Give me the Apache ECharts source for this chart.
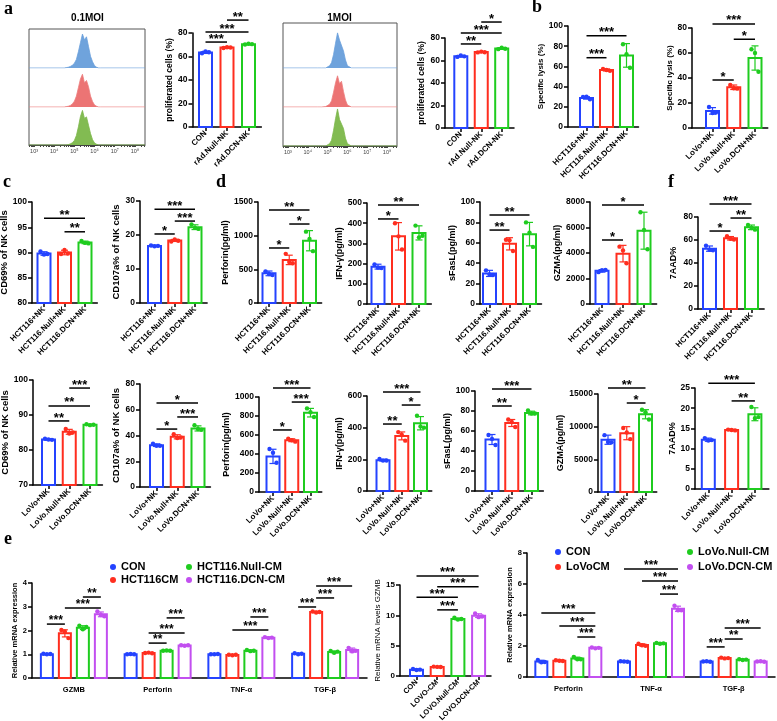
<!DOCTYPE html>
<html><head><meta charset="utf-8">
<script src="https://cdn.jsdelivr.net/npm/echarts@6/dist/echarts.min.js"></script>
<style>html,body{margin:0;padding:0;background:#fff}#c{width:777px;height:721px}</style>
</head><body><div id="c"></div>
<script>
// ================= DATA =================
const catsA = ['CON', 'rAd.Null-NK', 'rAd.DCN-NK'];
const catsHCT = ['HCT116+NK', 'HCT116.Null+NK', 'HCT116.DCN+NK'];
const catsLoVo = ['LoVo+NK', 'LoVo.Null+NK', 'LoVo.DCN+NK'];

// flow cytometry histograms (log10 intensity, normalised counts)
const flowX = [4.5,4.6,4.7,4.8,4.9,5.0,5.1,5.2,5.3,5.4,5.5,5.6,5.7,5.8,5.9,6.0,6.1,6.2,6.3];
const flow01Blue  = [0,0.01,0.02,0.04,0.07,0.12,0.22,0.42,0.65,0.87,0.72,0.80,0.55,0.30,0.16,0.06,0.02,0,0];
const flow01Red   = [0,0.01,0.02,0.04,0.08,0.15,0.28,0.50,0.72,0.84,0.62,0.68,0.52,0.28,0.14,0.05,0.02,0,0];
const flow01Green = [0,0,0.01,0.03,0.06,0.12,0.25,0.48,0.75,0.91,0.70,0.74,0.52,0.30,0.14,0.05,0.02,0,0];
const flow1Blue  = [0,0,0,0,0,0.02,0.05,0.12,0.30,0.55,0.78,0.62,0.66,0.38,0.18,0.05,0.01,0,0];
const flow1Red   = [0,0,0,0,0.01,0.03,0.07,0.16,0.38,0.62,0.80,0.60,0.66,0.40,0.18,0.05,0.01,0,0];
const flow1Green = [0,0,0,0,0,0.02,0.06,0.15,0.40,0.70,0.95,0.68,0.72,0.45,0.20,0.06,0.01,0,0];
const flowTickLabels = ['10³','10⁴','10⁵','10⁶','10⁷','10⁸'];

// a: proliferation
const prolif01Mean = [63.5, 67.6, 70.5];
const prolif01Sd = [0.9, 0.6, 0.5];
const prolif01Pts = [[62.8,64.3,63.6],[67.2,67.9,67.7],[70.2,70.9,70.5]];
const prolif01Sig = [[0,1,'***'],[0,2,'***'],[1,2,'**']];
const prolif1Mean = [63.8, 67.5, 70.6];
const prolif1Sd = [0.7, 0.5, 0.7];
const prolif1Pts = [[63.2,64.5,63.7],[67.2,67.9,67.4],[70.1,71.3,70.4]];
const prolif1Sig = [[0,1,'**'],[0,2,'***'],[1,2,'*']];

// b: specific lysis
const lysisHctMean = [28.8, 56.5, 70.9];
const lysisHctSd = [1.2, 1.0, 11.7];
const lysisHctPts = [[29.8,29.9,27.5],[57.5,56.4,55.6],[82,72,58.7]];
const lysisHctSig = [[0,1,'***'],[0,2,'***']];
const lysisLoVoMean = [13.7, 32.6, 56];
const lysisLoVoSd = [2.6, 1.8, 9.7];
const lysisLoVoPts = [[16.8,12,12.4],[34.5,31.8,31.5],[63,60,45]];
const lysisLoVoSig = [[0,1,'*'],[1,2,'*'],[0,2,'***']];

// c: CD69 / CD107a
const cd69HctMean = [89.8, 90.0, 92.0];
const cd69HctSd = [0.35, 0.45, 0.25];
const cd69HctPts = [[90.2,89.6,89.7],[89.7,90.5,89.8],[92.3,91.9,91.8]];
const cd69HctSig = [[0,2,'**'],[1,2,'**']];
const cd107HctMean = [16.8, 18.4, 22.3];
const cd107HctSd = [0.2, 0.3, 0.7];
const cd107HctPts = [[16.9,16.7,16.8],[18.1,18.7,18.3],[23.1,22.1,21.8]];
const cd107HctSig = [[0,1,'*'],[1,2,'***'],[0,2,'***']];
const cd69LoVoMean = [83.0, 85.2, 87.2];
const cd69LoVoSd = [0.2, 0.7, 0.15];
const cd69LoVoPts = [[83.2,83,82.9],[86,84.7,85],[87.35,87.1,87.2]];
const cd69LoVoSig = [[0,1,'**'],[0,2,'**'],[1,2,'***']];
const cd107LoVoMean = [32.5, 39, 45.5];
const cd107LoVoSd = [1, 1.6, 2];
const cd107LoVoPts = [[33.6,32,32],[41,38,38.5],[48,45,44.5]];
const cd107LoVoSig = [[0,1,'*'],[1,2,'***'],[0,2,'*']];

// d: cytokines
const perfHctMean = [440, 640, 925];
const perfHctSd = [35, 70, 150];
const perfHctPts = [[470,430,415],[730,610,590],[1060,950,770]];
const perfHctSig = [[0,1,'*'],[1,2,'*'],[0,2,'**']];
const ifnHctMean = [185, 335, 352];
const ifnHctSd = [12, 68, 35];
const ifnHctPts = [[196,180,178],[400,335,270],[388,330,338]];
const ifnHctSig = [[0,1,'*'],[0,2,'**']];
const fasHctMean = [30, 59, 68.5];
const fasHctSd = [3, 6, 11.5];
const fasHctPts = [[33,29,28.5],[63,62.5,52],[80,70,56]];
const fasHctSig = [[0,1,'**'],[0,2,'**']];
const gzmaHctMean = [2600, 3950, 5750];
const gzmaHctSd = [100, 650, 1450];
const gzmaHctPts = [[2500,2650,2680],[4500,4200,3200],[7200,5800,4300]];
const gzmaHctSig = [[0,1,'*'],[0,2,'*']];
const perfLoVoMean = [375, 545, 835];
const perfLoVoSd = [75, 15, 45];
const perfLoVoPts = [[452,413,308],[560,545,530],[880,840,790]];
const perfLoVoSig = [[0,1,'*'],[1,2,'***'],[0,2,'***']];
const ifnLoVoMean = [195, 348, 428];
const ifnLoVoSd = [6, 25, 42];
const ifnLoVoPts = [[202,192,193],[372,355,318],[475,408,400]];
const ifnLoVoSig = [[0,1,'**'],[1,2,'*'],[0,2,'***']];
const fasLoVoMean = [51.5, 68, 78];
const fasLoVoSd = [5, 3.5, 1.8];
const fasLoVoPts = [[56,52,46],[71.5,69,64],[80.5,77.5,77.5]];
const fasLoVoSig = [[0,1,'**'],[0,2,'***']];
const gzmaLoVoMean = [8000, 9000, 11900];
const gzmaLoVoSd = [700, 1000, 700];
const gzmaLoVoPts = [[8700,7650,7600],[9800,9100,8100],[12600,12200,11100]];
const gzmaLoVoSig = [[1,2,'*'],[0,2,'**']];

// f: 7AAD
const aadHctMean = [52.5, 61.5, 71];
const aadHctSd = [2.3, 1.5, 2];
const aadHctPts = [[55,51.5,51],[63.2,61,60.5],[73,70.5,69]];
const aadHctSig = [[0,1,'*'],[1,2,'**'],[0,2,'***']];
const aadLoVoMean = [12.2, 14.6, 18.5];
const aadLoVoSd = [0.4, 0.15, 1.6];
const aadLoVoPts = [[12.6,12,12.1],[14.7,14.6,14.5],[20.3,17.5,17.8]];
const aadLoVoSig = [[1,2,'**'],[0,2,'***']];

// e: qPCR
const hctGenes = ['GZMB', 'Perforin', 'TNF-α', 'TGF-β'];
const hctGroups = ['CON', 'HCT116CM', 'HCT116.Null-CM', 'HCT116.DCN-CM'];
const hctMean = [[1.0,1.0,1.0,1.02],[1.88,1.05,0.97,2.78],[2.12,1.15,1.15,1.1],[2.68,1.37,1.7,1.18]];
const hctSd = [[0.02,0.01,0.01,0.02],[0.15,0.02,0.02,0.03],[0.08,0.01,0.03,0.04],[0.1,0.02,0.03,0.08]];
const hctPts = [
  [[1.02,1.0,1.01],[1.0,1.01,1.0],[1.0,1.0,1.01],[1.04,1.0,1.02]],
  [[2.02,1.95,1.68],[1.05,1.07,1.04],[0.98,0.96,0.98],[2.8,2.76,2.78]],
  [[2.2,2.05,2.15],[1.15,1.16,1.15],[1.18,1.13,1.15],[1.14,1.06,1.11]],
  [[2.8,2.65,2.6],[1.38,1.36,1.38],[1.72,1.68,1.7],[1.27,1.12,1.15]]];
const hctSig = [[0,0,1,'***'],[0,1,3,'***'],[0,2,3,'**'],[1,1,2,'**'],[1,1,3,'***'],[1,2,3,'***'],[2,1,3,'***'],[2,2,3,'***'],[3,0,1,'***'],[3,1,2,'***'],[3,1,3,'***']];

const gzmbCats = ['CON', 'LOVO-CM', 'LOVO.Null-CM', 'LOVO.DCN-CM'];
const gzmbMean = [1.05, 1.5, 9.4, 9.95];
const gzmbSd = [0.08, 0.04, 0.15, 0.3];
const gzmbPts = [[1.15,1.0,1.05],[1.55,1.5,1.48],[9.6,9.3,9.4],[10.3,9.7,9.8]];
const gzmbSig = [[1,2,'***'],[0,2,'***'],[1,3,'***'],[0,3,'***']];

const lovoGenes = ['Perforin', 'TNF-α', 'TGF-β'];
const lovoGroups = ['CON', 'LoVoCM', 'LoVo.Null-CM', 'LoVo.DCN-CM'];
const lovoMean = [[1.0,1.0,1.0],[1.05,2.07,1.22],[1.2,2.17,1.12],[1.88,4.4,1.0]];
const lovoSd = [[0.08,0.02,0.02],[0.03,0.07,0.03],[0.08,0.03,0.03],[0.03,0.17,0.02]];
const lovoPts = [
  [[1.1,0.95,0.97],[1.02,1.0,0.98],[1.0,1.02,0.98]],
  [[1.08,1.05,1.03],[2.15,2.05,2.02],[1.25,1.2,1.22]],
  [[1.3,1.15,1.15],[2.2,2.15,2.17],[1.15,1.1,1.12]],
  [[1.9,1.85,1.88],[4.6,4.3,4.3],[1.0,1.02,0.98]]];
const lovoSig = [[0,0,3,'***'],[0,1,3,'***'],[0,2,3,'***'],[1,0,3,'***'],[1,1,3,'***'],[1,2,3,'***'],[2,0,1,'***'],[2,1,2,'**'],[2,1,3,'***']];

// ================= STYLE / LAYOUT =================
const COLORS = ['#2443ff', '#ff2e1f', '#1fcc1f', '#c24ff0'];
const FONT = '"Liberation Sans", Arial, sans-serif';
const grids = [], xAxes = [], yAxes = [], series = [], graphics = [], legends = [];

function yAxisCfg(gi, p) {
  return {gridIndex: gi, type: 'value', min: p.yMin, max: p.yMax, interval: p.step,
    name: p.name, nameLocation: 'middle', nameGap: p.ng,
    nameTextStyle: {fontSize: p.nfs || 9, fontWeight: p.nfw || 'bold', color: '#000', fontFamily: FONT},
    axisLine: {show: true, onZero: false, lineStyle: {color: '#000', width: 1.5}},
    axisTick: {show: true, length: 4, lineStyle: {color: '#000', width: 1.5}},
    axisLabel: {fontSize: p.lfs || 8.5, fontWeight: 'bold', color: '#000', margin: 5, fontFamily: FONT, formatter: v => String(v)},
    splitLine: {show: false}};
}

function errSeries(xi, yi, data, yMin, colorOf, offOf, cap) {
  return {type: 'custom', xAxisIndex: xi, yAxisIndex: yi, clip: false, silent: true, z: 3, data,
    renderItem: (params, api) => {
      const d = data[params.dataIndex];
      const hi = api.coord([api.value(0), d[1] + d[2]]);
      const lo = api.coord([api.value(0), Math.max(d[1] - d[2], yMin)]);
      const off = offOf(d), c = colorOf(d), w = cap / 2, x = hi[0] + off;
      return {type: 'group', children: [
        {type: 'line', shape: {x1: x, y1: hi[1], x2: x, y2: lo[1]}, style: {stroke: c, lineWidth: 1.2}},
        {type: 'line', shape: {x1: x - w, y1: hi[1], x2: x + w, y2: hi[1]}, style: {stroke: c, lineWidth: 1.2}},
        {type: 'line', shape: {x1: x - w, y1: lo[1], x2: x + w, y2: lo[1]}, style: {stroke: c, lineWidth: 1.2}}]};
    }};
}

function barSeries(xi, yi, data, yMin, colorOf, offOf, bw, name) {
  return {type: 'custom', name, xAxisIndex: xi, yAxisIndex: yi, clip: false, silent: true, z: 2, data,
    itemStyle: {color: '#fff'},
    renderItem: (params, api) => {
      const d = data[params.dataIndex];
      const top = api.coord([api.value(0), d[1]]);
      const base = api.coord([api.value(0), yMin]);
      const x = top[0] + offOf(d);
      return {type: 'rect', shape: {x: x - bw / 2, y: top[1], width: bw, height: base[1] - top[1]},
        style: {fill: '#fff', stroke: colorOf(d), lineWidth: 2}};
    }};
}

function dotSeries(xi, yi, data, colorOf, offOf, name, color) {
  const DOT_OFF = [-3.5, 0, 3.5];
  return {type: 'custom', name, xAxisIndex: xi, yAxisIndex: yi, clip: false, silent: true, z: 4, data,
    itemStyle: {color: color || '#000'},
    renderItem: (params, api) => {
      const d = data[params.dataIndex];
      const p = api.coord([api.value(0), d[1]]);
      return {type: 'circle', shape: {cx: p[0] + offOf(d) + DOT_OFF[d[2]], cy: p[1], r: 2.2},
        style: {fill: colorOf(d)}};
    }};
}

function sigSeries(xi, yi, data, labels, offA, offB, fs) {
  return {type: 'custom', xAxisIndex: xi, yAxisIndex: yi, clip: false, silent: true, z: 5, data,
    renderItem: (params, api) => {
      const d = data[params.dataIndex];
      const a = api.coord([d[0], d[2]]), b = api.coord([d[1], d[2]]);
      const x1 = a[0] + offA(d), x2 = b[0] + offB(d);
      return {type: 'group', children: [
        {type: 'line', shape: {x1, y1: a[1], x2, y2: a[1]}, style: {stroke: '#000', lineWidth: 1.5}},
        {type: 'text', x: (x1 + x2) / 2, y: a[1] - 3,
          style: {text: labels[params.dataIndex], fill: '#000', fontSize: fs, fontWeight: 'bold', fontFamily: FONT, align: 'center', verticalAlign: 'middle'}}]};
    }};
}

// three-bar panels
function barPanel(p) {
  const n = p.mean.length;
  const x0 = -(p.c1 - p.ax) / p.s;
  const xMax = (n - 1) + (p.tail || 0.6);
  const gi = grids.length;
  grids.push({left: p.ax, top: p.top, width: (xMax - x0) * p.s, height: p.bot - p.top, outerBoundsMode: 'none', containLabel: false});
  const idx = p.mean.map((m, i) => i);
  xAxes.push({gridIndex: gi, type: 'value', min: x0, max: xMax, splitLine: {show: false},
    axisLine: {show: true, onZero: false, lineStyle: {color: '#000', width: 1.5}},
    axisTick: {show: true, customValues: idx, length: 4, lineStyle: {color: '#000', width: 1.5}},
    axisLabel: {customValues: idx, formatter: v => p.cats[Math.round(v)], rotate: 45, fontSize: p.xfs || 8,
      fontWeight: 'bold', color: '#000', fontFamily: FONT, margin: 5}});
  yAxes.push(yAxisCfg(gi, p));
  const xi = xAxes.length - 1, yi = yAxes.length - 1;
  const col = d => COLORS[d[0]], off0 = () => 0;
  series.push(barSeries(xi, yi, p.mean.map((m, i) => [i, m]), p.yMin, col, off0, p.bw || 13));
  series.push(errSeries(xi, yi, p.mean.map((m, i) => [i, m, p.sd[i]]), p.yMin, col, off0, 7));
  const dots = [];
  p.pts.forEach((arr, i) => arr.forEach((v, k) => dots.push([i, v, k])));
  series.push(dotSeries(xi, yi, dots, col, off0));
  series.push(sigSeries(xi, yi, p.sig.map((s, k) => [s[0], s[1], p.sigY[k]]), p.sig.map(s => s[2]), off0, off0, p.sfs || 13));
}

// grouped panels
function groupPanel(p) {
  const gi = grids.length;
  grids.push({left: p.left, top: p.top, width: p.width, height: p.bot - p.top, outerBoundsMode: 'none', containLabel: false});
  xAxes.push({gridIndex: gi, type: 'category', data: p.cats, boundaryGap: true,
    axisLine: {show: true, onZero: false, lineStyle: {color: '#000', width: 1.5}},
    axisTick: {show: false},
    axisLabel: {fontSize: 7.5, color: '#000', fontFamily: FONT, margin: 8, fontWeight: 'bold'}});
  yAxes.push(yAxisCfg(gi, p));
  const xi = xAxes.length - 1, yi = yAxes.length - 1;
  const G = p.gap, nS = p.mean.length;
  const off = d => (d[3] - (nS - 1) / 2) * G;
  const col = d => COLORS[d[3]];
  p.mean.forEach((arr, s) => {
    series.push(barSeries(xi, yi, arr.map((m, g) => [g, m, 0, s]), p.yMin, col, off, 12));
    series.push(errSeries(xi, yi, arr.map((m, g) => [g, m, p.sd[s][g], s]), p.yMin, col, off, 6));
    const dots = [];
    p.pts[s].forEach((tri, g) => tri.forEach((v, k) => dots.push([g, v, k, s])));
    series.push(dotSeries(xi, yi, dots, col, off, p.groups[s], COLORS[s]));
  });
  const sd = p.sig.map((s, k) => [s[0], s[0], p.sigY[k], s[1], s[2]]);
  series.push(sigSeries(xi, yi, sd, p.sig.map(s => s[3]),
    d => (d[3] - (nS - 1) / 2) * G, d => (d[4] - (nS - 1) / 2) * G, 12));
}

// flow histogram boxes
const FLOW_MIN = 2.75, FLOW_MAX = 8.5;
const flowMajor = [3, 4, 5, 6, 7, 8];
const flowMinor = [];
for (let e = 2; e <= 8; e++) for (let k = 1; k <= 9; k++) {
  const v = e + Math.log10(k);
  if (v >= FLOW_MIN && v <= FLOW_MAX) flowMinor.push(v);
}
function flowBox(b) {
  const gi = grids.length;
  grids.push({left: b.left, top: b.top, width: b.w, height: b.bandBot[2] - b.top, show: true,
    borderColor: '#555', borderWidth: 1, outerBoundsMode: 'none', containLabel: false});
  xAxes.push({gridIndex: gi, type: 'value', min: FLOW_MIN, max: FLOW_MAX, splitLine: {show: false},
    axisLine: {show: true, onZero: false, lineStyle: {color: '#444', width: 1}},
    axisTick: {show: true, customValues: flowMinor, length: 2, lineStyle: {color: '#444', width: 1}},
    axisLabel: {customValues: flowMajor, formatter: v => flowTickLabels[Math.round(v) - 3], fontSize: 5.5, color: '#444', margin: 3, fontFamily: FONT}});
  yAxes.push({gridIndex: gi, type: 'value', min: 0, max: 1, show: false});
  b.hists.forEach((h, k) => {
    const top = k === 0 ? b.top : b.bandBot[k - 1];
    const g = grids.length;
    grids.push({left: b.left, top: top, width: b.w, height: b.bandBot[k] - top, outerBoundsMode: 'none', containLabel: false});
    xAxes.push({gridIndex: g, type: 'value', min: FLOW_MIN, max: FLOW_MAX, show: false});
    yAxes.push({gridIndex: g, type: 'value', min: 0, max: 1, show: false});
    const data = [[FLOW_MIN, 0]].concat(flowX.map((x, i) => [x, h.counts[i]]), [[FLOW_MAX, 0]]);
    series.push({type: 'line', xAxisIndex: xAxes.length - 1, yAxisIndex: yAxes.length - 1, data,
      symbol: 'none', silent: true, lineStyle: {color: h.line, width: 0.8},
      areaStyle: {color: h.fill, opacity: 1}});
  });
}

const BLUE_H = {line: '#6a9fdc', fill: '#6fa3dc'};
const RED_H = {line: '#ec7f7f', fill: '#ec7474'};
const GREEN_H = {line: '#7cb84a', fill: '#82bb52'};

flowBox({left: 29, top: 29, w: 116, bandBot: [68, 107, 145], hists: [
  Object.assign({counts: flow01Blue}, BLUE_H), Object.assign({counts: flow01Red}, RED_H), Object.assign({counts: flow01Green}, GREEN_H)]});
flowBox({left: 283, top: 23, w: 114, bandBot: [68, 107, 146], hists: [
  Object.assign({counts: flow1Blue}, BLUE_H), Object.assign({counts: flow1Red}, RED_H), Object.assign({counts: flow1Green}, GREEN_H)]});

// ---- a ----
barPanel({ax: 192.5, c1: 205.5, s: 21.5, top: 33, bot: 127, yMin: 0, yMax: 80, step: 20, ng: 16, nfs: 8.5,
  name: 'proliferated cells (%)', cats: catsA, mean: prolif01Mean, sd: prolif01Sd, pts: prolif01Pts, sig: prolif01Sig, sigY: [72.3, 80.9, 91]});
barPanel({ax: 445, c1: 460.8, s: 20.45, top: 38, bot: 128, yMin: 0, yMax: 80, step: 20, ng: 16, nfs: 8.5,
  name: 'proliferated cells (%)', cats: catsA, mean: prolif1Mean, sd: prolif1Sd, pts: prolif1Pts, sig: prolif1Sig, sigY: [74.7, 84.4, 94.2]});
// ---- b ----
barPanel({ax: 568, c1: 586.5, s: 20, top: 26, bot: 127, yMin: 0, yMax: 100, step: 20, ng: 17, nfs: 8,
  name: 'Specific lysis (%)', cats: catsHCT, mean: lysisHctMean, sd: lysisHctSd, pts: lysisHctPts, sig: lysisHctSig, sigY: [68.6, 90.4]});
barPanel({ax: 692, c1: 712.5, s: 21.25, top: 28, bot: 128, yMin: 0, yMax: 80, step: 20, ng: 15.5, nfs: 8,
  name: 'Specific lysis (%)', cats: catsLoVo, mean: lysisLoVoMean, sd: lysisLoVoSd, pts: lysisLoVoPts, sig: lysisLoVoSig, sigY: [38.4, 71, 83.3]});
// ---- row 1: c, d, f (HCT116) ----
barPanel({ax: 32, c1: 44, s: 20.5, top: 202, bot: 303, yMin: 80, yMax: 100, step: 5, ng: 22, nfs: 9.5,
  name: 'CD69% of NK cells', cats: catsHCT, mean: cd69HctMean, sd: cd69HctSd, pts: cd69HctPts, sig: cd69HctSig, sigY: [96.8, 94.1]});
barPanel({ax: 140, c1: 154.5, s: 20.25, top: 201, bot: 303, yMin: 0, yMax: 30, step: 10, ng: 16, nfs: 9.5,
  name: 'CD107a% of NK cells', cats: catsHCT, mean: cd107HctMean, sd: cd107HctSd, pts: cd107HctPts, sig: cd107HctSig, sigY: [20.3, 24.1, 27.6]});
barPanel({ax: 258, c1: 269, s: 20.25, top: 202, bot: 303, yMin: 0, yMax: 1500, step: 500, ng: 21.5,
  name: 'Perforin(pg/ml)', cats: catsHCT, mean: perfHctMean, sd: perfHctSd, pts: perfHctPts, sig: perfHctSig, sigY: [817, 1173, 1381]});
barPanel({ax: 367, c1: 378, s: 20.5, top: 203, bot: 304, yMin: 0, yMax: 500, step: 100, ng: 22,
  name: 'IFN-γ(pg/ml)', cats: catsHCT, mean: ifnHctMean, sd: ifnHctSd, pts: ifnHctPts, sig: ifnHctSig, sigY: [421, 490]});
barPanel({ax: 480, c1: 489.5, s: 20, top: 202, bot: 304, yMin: 0, yMax: 100, step: 20, ng: 21,
  name: 'sFasL(pg/ml)', cats: catsHCT, mean: fasHctMean, sd: fasHctSd, pts: fasHctPts, sig: fasHctSig, sigY: [72.5, 87.3]});
barPanel({ax: 590, c1: 602, s: 21, top: 202, bot: 304, yMin: 0, yMax: 8000, step: 2000, ng: 26,
  name: 'GZMA(pg/ml)', cats: catsHCT, mean: gzmaHctMean, sd: gzmaHctSd, pts: gzmaHctPts, sig: gzmaHctSig, sigY: [5020, 7765]});
barPanel({ax: 698, c1: 709.5, s: 21, top: 217, bot: 309, yMin: 0, yMax: 80, step: 20, ng: 20,
  name: '7AAD%', cats: catsHCT, mean: aadHctMean, sd: aadHctSd, pts: aadHctPts, sig: aadHctSig, sigY: [67.8, 79.1, 91.3]});
// ---- row 2 (LoVo) ----
barPanel({ax: 33, c1: 48.5, s: 20.75, top: 380, bot: 485, yMin: 70, yMax: 100, step: 10, ng: 22, nfs: 9.5,
  name: 'CD69% of NK cells', cats: catsLoVo, mean: cd69LoVoMean, sd: cd69LoVoSd, pts: cd69LoVoPts, sig: cd69LoVoSig, sigY: [88.3, 92.6, 97.7]});
barPanel({ax: 140, c1: 156.5, s: 20.75, top: 384, bot: 487, yMin: 0, yMax: 80, step: 20, ng: 15, nfs: 9.5,
  name: 'CD107a% of NK cells', cats: catsLoVo, mean: cd107LoVoMean, sd: cd107LoVoSd, pts: cd107LoVoPts, sig: cd107LoVoSig, sigY: [45, 54.4, 65.2]});
barPanel({ax: 259, c1: 273, s: 18.75, top: 397, bot: 492, yMin: 0, yMax: 1000, step: 200, ng: 22,
  name: 'Perforin(pg/ml)', cats: catsLoVo, mean: perfLoVoMean, sd: perfLoVoSd, pts: perfLoVoPts, sig: perfLoVoSig, sigY: [653, 947, 1095]});
barPanel({ax: 367, c1: 383, s: 18.75, top: 396, bot: 491, yMin: 0, yMax: 600, step: 200, ng: 20,
  name: 'IFN-γ(pg/ml)', cats: catsLoVo, mean: ifnLoVoMean, sd: ifnLoVoSd, pts: ifnLoVoPts, sig: ifnLoVoSig, sigY: [423, 543, 625]});
barPanel({ax: 475, c1: 492, s: 19.75, top: 391, bot: 491, yMin: 0, yMax: 100, step: 20, ng: 16,
  name: 'sFasL(pg/ml)', cats: catsLoVo, mean: fasLoVoMean, sd: fasLoVoSd, pts: fasLoVoPts, sig: fasLoVoSig, sigY: [85, 102]});
barPanel({ax: 598, c1: 608, s: 18.75, top: 394, bot: 492, yMin: 0, yMax: 15000, step: 5000, ng: 30,
  name: 'GZMA(pg/ml)', cats: catsLoVo, mean: gzmaLoVoMean, sd: gzmaLoVoSd, pts: gzmaLoVoPts, sig: gzmaLoVoSig, sigY: [13622, 15918]});
barPanel({ax: 695, c1: 708.3, s: 23.3, top: 388, bot: 489, yMin: 0, yMax: 25, step: 5, ng: 18,
  name: '7AAD%', cats: catsLoVo, mean: aadLoVoMean, sd: aadLoVoSd, pts: aadLoVoPts, sig: aadLoVoSig, sigY: [21.8, 26.2]});
// ---- e ----
groupPanel({left: 32, top: 583, bot: 678, width: 335, gap: 18, yMin: 0, yMax: 4, step: 1, ng: 13, nfs: 7.5, lfs: 7.5,
  name: 'Relative mRNA expression', cats: hctGenes, groups: hctGroups, mean: hctMean, sd: hctSd, pts: hctPts, sig: hctSig,
  sigY: [2.27, 2.95, 3.41, 1.47, 1.89, 2.53, 2.02, 2.57, 2.99, 3.37, 3.87]});
barPanel({ax: 400, c1: 416.5, s: 20.7, tail: 0.6, top: 585, bot: 676, yMin: 0, yMax: 15, step: 5, ng: 13, nfs: 8, nfw: 'normal', lfs: 8, xfs: 7.5,
  name: 'Relative mRNA levels GZMB', cats: gzmbCats, mean: gzmbMean, sd: gzmbSd, pts: gzmbPts, sig: gzmbSig, sigY: [10.9, 13.0, 14.7, 16.5]});
groupPanel({left: 527, top: 553, bot: 677, width: 248, gap: 18, yMin: 0, yMax: 8, step: 2, ng: 10, nfs: 7.5, lfs: 7.5,
  name: 'Relative mRNA expression', cats: lovoGenes, groups: lovoGroups, mean: lovoMean, sd: lovoSd, pts: lovoPts, sig: lovoSig,
  sigY: [4.13, 3.29, 2.58, 6.97, 6.19, 5.35, 1.94, 2.45, 3.16]});

// legends for e
function legendCol(left, top, names, colorIdx, gap) {
  legends.push({left, top, orient: 'vertical', icon: 'circle', itemWidth: 6, itemHeight: 6, itemGap: gap, padding: 0,
    selectedMode: false,
    data: names.map((n, i) => ({name: n, itemStyle: {color: COLORS[colorIdx[i]]}})),
    textStyle: {fontSize: 11, fontWeight: 'bold', color: '#000', fontFamily: FONT, lineHeight: 12}});
}
legendCol(110, 561, [hctGroups[0], hctGroups[1]], [0, 1], 1);
legendCol(186, 561, [hctGroups[2], hctGroups[3]], [2, 3], 1);
legendCol(555, 546, [lovoGroups[0], lovoGroups[1]], [0, 1], 3);
legendCol(687, 546, [lovoGroups[2], lovoGroups[3]], [2, 3], 3);

// panel letters & titles
function txt(x, y, t, font, align) {
  graphics.push({type: 'text', x, y, silent: true,
    style: {text: t, font, fill: '#000', align: align || 'left', verticalAlign: 'middle'}});
}
const LETTER = 'bold 18px "Liberation Serif", "Times New Roman", serif';
txt(4, 9, 'a', LETTER); txt(532, 7, 'b', LETTER); txt(3, 182, 'c', LETTER);
txt(216, 182, 'd', LETTER); txt(4, 539, 'e', LETTER); txt(668, 182, 'f', LETTER);
txt(87.5, 18, '0.1MOI', 'bold 10px "Liberation Sans", Arial, sans-serif', 'center');
txt(339.5, 18, '1MOI', 'bold 10px "Liberation Sans", Arial, sans-serif', 'center');

const chart = echarts.init(document.getElementById('c'), null, {renderer: 'canvas', width: 777, height: 721});
chart.setOption({animation: false, backgroundColor: '#fff', textStyle: {fontFamily: FONT},
  grid: grids, xAxis: xAxes, yAxis: yAxes, series, legend: legends, graphic: graphics});
</script></body></html>
